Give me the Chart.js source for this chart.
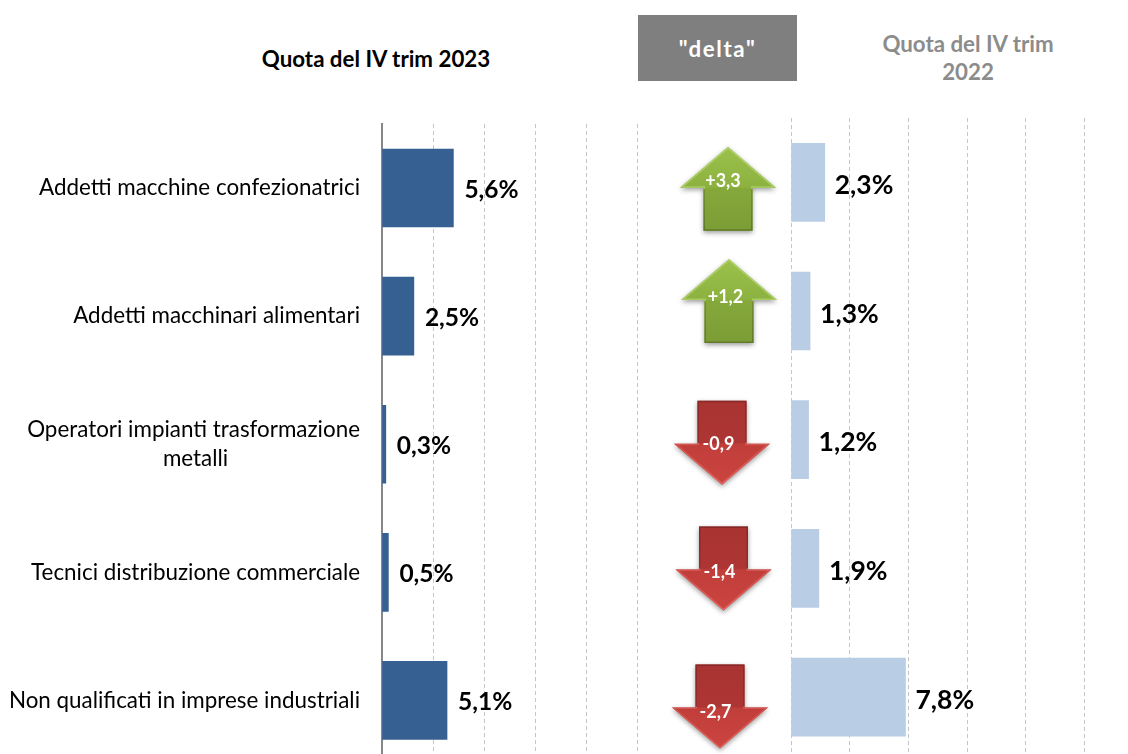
<!DOCTYPE html>
<html lang="it">
<head>
<meta charset="UTF-8">
<title>Quota del IV trim</title>
<script src="https://cdn.jsdelivr.net/npm/chart.js@4"></script>
<style>
    html, body { margin: 0; padding: 0; background: #fff; overflow: hidden; width: 1128px; height: 754px; }
    body { position: relative; font-family: Lato, sans-serif; }
    canvas { position: absolute; top: 0; }
    #chartLeft { left: 0; }
    #chartRight { left: 640px; }
    .head { position: absolute; font-weight: 700; font-size: 22.3px; line-height: 28px; text-align: center; }
    #head2023 { left: 226px; width: 300px; top: 45px; color: #000; }
    #headDelta { left: 638px; width: 159px; top: 15px; height: 66px; line-height: 68px; background: #7f7f7f; color: #fff; letter-spacing: 1.6px; }
    #head2022 { left: 868px; width: 200px; top: 29.5px; color: #8c8c8c; }
</style>
</head>
<body>
<div class="head" id="head2023">Quota del IV trim 2023</div>
<div class="head" id="headDelta">"delta"</div>
<div class="head" id="head2022">Quota del IV trim 2022</div>
<canvas id="chartLeft" width="640" height="801"></canvas>
<canvas id="chartRight" width="488" height="770"></canvas>

<script>
const categories = [
    'Addetti macchine confezionatrici',
    'Addetti macchinari alimentari',
    'Operatori impianti trasformazione metalli',
    'Tecnici distribuzione commerciale',
    'Non qualificati in imprese industriali'
];
const share2023 = [5.6, 2.5, 0.3, 0.5, 5.1];
const share2022 = [2.3, 1.3, 1.2, 1.9, 7.8];
const deltas = [3.3, 1.2, -0.9, -1.4, -2.7];

// hand placed arrows in the original, so each one has its own nudge from the row centre
const arrowNudgeX = [3, 4, -3, -1.5, -5];
const arrowNudgeY = [6.5, -10, 3, 0, 9.5];
const deltaLabelY = [-1, -14, 4, 4, 15];
const deltaLabelX = [-5, -3.5, -3.5, -4, -4.5];

const gridColor = '#c6c6c6';
const labelFont = '22.4px Lato, sans-serif';

function fmt(v, digits) {
    return v.toFixed(digits).replace('.', ',');
}

// the long label wraps in two centred lines: pad the short line, the axis aligns right
function wrapLabel(label) {
    if (label.length < 40) return label;
    const words = label.split(' ');
    const last = words.pop();
    const first = words.join(' ');
    const ctx = document.createElement('canvas').getContext('2d');
    ctx.font = labelFont;
    const gap = (ctx.measureText(first).width - ctx.measureText(last).width) / 2;
    const n = Math.round(gap / ctx.measureText('\u00a0').width);
    return [first, last + '\u00a0'.repeat(n)];
}

const valueLabels = {
    id: 'valueLabels',
    afterDatasetsDraw(chart, args, opts) {
        const ctx = chart.ctx;
        ctx.save();
        ctx.font = 'bold ' + opts.size + 'px Lato, sans-serif';
        ctx.fillStyle = '#000';
        ctx.textBaseline = 'middle';
        chart.getDatasetMeta(0).data.forEach((bar, i) => {
            const v = chart.data.datasets[0].data[i];
            ctx.fillText(fmt(v, 1) + '%', bar.x + opts.gap, bar.y + opts.dy);
        });
        ctx.restore();
    }
};

function arrowPath(ctx, cx, top, up) {
    const h = 84, headH = 41, headW = 48, shaftW = 24.5;
    const dir = up ? 1 : -1;
    const tip = up ? top : top + h;
    const end = up ? top + h : top;
    const base = tip + dir * headH;
    ctx.beginPath();
    ctx.moveTo(cx, tip);
    ctx.lineTo(cx + headW, base);
    ctx.lineTo(cx + shaftW, base);
    ctx.lineTo(cx + shaftW, end);
    ctx.lineTo(cx - shaftW, end);
    ctx.lineTo(cx - shaftW, base);
    ctx.lineTo(cx - headW, base);
    ctx.closePath();
}

const deltaArrows = {
    id: 'deltaArrows',
    afterDatasetsDraw(chart) {
        const ctx = chart.ctx;
        const x0 = chart.scales.x.getPixelForValue(0) - 66;
        deltas.forEach((d, i) => {
            const up = d > 0;
            const cx = x0 + arrowNudgeX[i];
            const rowY = chart.scales.y.getPixelForValue(i);
            const top = rowY - 42 + arrowNudgeY[i];
            const g = ctx.createLinearGradient(0, top, 0, top + 84);
            const edge = ctx.createLinearGradient(0, top, 0, top + 84);
            if (up) {
                g.addColorStop(0, '#9cc24c');
                g.addColorStop(0.48, '#8cb140');
                g.addColorStop(0.5, '#85a83b');
                g.addColorStop(1, '#7c9c35');
                edge.addColorStop(0, '#b0d06a');
                edge.addColorStop(0.49, '#a8cc60');
                edge.addColorStop(0.51, '#748f32');
                edge.addColorStop(1, '#5f7a28');
            } else {
                g.addColorStop(0, '#a83331');
                g.addColorStop(0.5, '#ad3634');
                g.addColorStop(0.52, '#c03e3a');
                g.addColorStop(1, '#cc4540');
                edge.addColorStop(0, '#862927');
                edge.addColorStop(0.49, '#952e2c');
                edge.addColorStop(0.51, '#d4544f');
                edge.addColorStop(1, '#e0625d');
            }
            ctx.save();
            ctx.shadowColor = 'rgba(0,0,0,0.4)';
            ctx.shadowBlur = 5;
            ctx.shadowOffsetY = 2;
            arrowPath(ctx, cx, top, up);
            ctx.fillStyle = g;
            ctx.fill();
            ctx.restore();
            ctx.save();
            arrowPath(ctx, cx, top, up);
            ctx.clip();
            ctx.strokeStyle = edge;
            ctx.lineWidth = 3;
            ctx.stroke();
            ctx.restore();
            ctx.save();
            ctx.font = 'bold 18px Lato, sans-serif';
            ctx.fillStyle = '#fff';
            ctx.textAlign = 'center';
            ctx.textBaseline = 'middle';
            ctx.fillText((up ? '+' : '') + fmt(d, 1), cx + deltaLabelX[i], rowY + deltaLabelY[i]);
            ctx.restore();
        });
    }
};

function xScale() {
    return {
        min: 0,
        max: 20,
        ticks: { display: false, stepSize: 4 },
        border: { display: false, dash: [4, 3] },
        grid: { color: gridColor, drawTicks: false, lineWidth: 1 },
    };
}

new Chart(document.getElementById('chartLeft'), {
    type: 'bar',
    data: {
        labels: categories,
        datasets: [{ data: share2023, backgroundColor: '#376092', barThickness: 78 }]
    },
    options: {
        indexAxis: 'y',
        responsive: false,
        animation: false,
        layout: { padding: { top: 124, right: 3, bottom: 0, left: 0 } },
        plugins: { legend: { display: false }, tooltip: { enabled: false }, valueLabels: { size: 24.5, gap: 11, dy: 2 } },
        scales: {
            x: xScale(),
            y: {
                afterFit(scale) { scale.width = 382; },
                grid: { display: false, drawTicks: false },
                border: { color: '#868686', width: 2 },
                ticks: {
                    padding: 22,
                    color: '#000',
                    font: { family: 'Lato, sans-serif', size: 22.4, lineHeight: 1.3 },
                    callback(value) { return wrapLabel(this.getLabelForValue(value)); }
                }
            }
        }
    },
    plugins: [valueLabels]
});

new Chart(document.getElementById('chartRight'), {
    type: 'bar',
    data: {
        labels: categories,
        datasets: [{ data: share2022, backgroundColor: '#b9cde5', barThickness: 78 }]
    },
    options: {
        indexAxis: 'y',
        responsive: false,
        animation: false,
        layout: { padding: { top: 118, right: 43.5, bottom: 8.6, left: 0 } },
        plugins: { legend: { display: false }, tooltip: { enabled: false }, valueLabels: { size: 26.5, gap: 10, dy: 3 } },
        scales: {
            x: xScale(),
            y: {
                afterFit(scale) { scale.width = 151; },
                grid: { display: false, drawTicks: false },
                border: { display: false },
                ticks: { display: false }
            }
        }
    },
    plugins: [valueLabels, deltaArrows]
});
</script>
</body>
</html>
